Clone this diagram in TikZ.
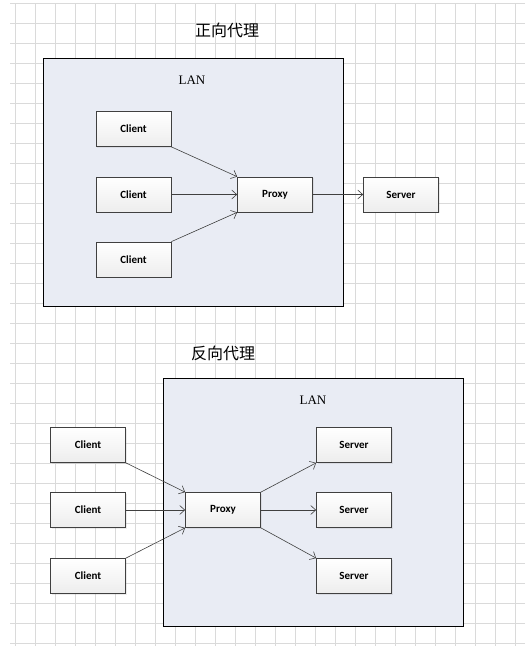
\documentclass[tikz,border=0pt]{standalone}
\usepackage{fontspec}
\setmainfont{Liberation Serif}
\newfontfamily\cjkfont{Noto Sans CJK SC}
\newfontfamily\boxfont{Carlito}
\usepackage{xcolor}
\definecolor{langray}{RGB}{233,236,244}
\definecolor{gridgray}{RGB}{218,218,218}
\definecolor{edgegray}{RGB}{64,64,64}
\usetikzlibrary{arrows.meta,shadows}

\begin{document}
\begin{tikzpicture}[
  x=1pt,y=-1pt,
  every node/.style={inner sep=0pt},
  gridline/.style={gridgray,line width=0.8pt},
  lanbox/.style={draw=black,fill=langray,line width=1pt},
  title/.style={font=\cjkfont\fontsize{16}{18}\selectfont},
  lanlabel/.style={font=\fontsize{13}{15}\selectfont},
  hostbox/.style={draw=edgegray,line width=0.7pt,top color=white,bottom color=black!7,
                  minimum width=75pt,minimum height=35pt,
                  font=\boxfont\bfseries\fontsize{11}{13}\selectfont,
                  drop shadow={opacity=0.15,shadow xshift=1pt,shadow yshift=-1pt}},
  link/.style={draw=edgegray,line width=0.6pt,-{Straight Barb[length=5pt,width=9pt]}},
]
  \useasboundingbox (0,0) rectangle (525,646);
  \fill[white] (0,0) rectangle (525,646);

  % Grid
  \foreach \x in {15,35,...,515} \draw[gridline] (\x,3) -- (\x,646);
  \foreach \y in {3,23,...,643} \draw[gridline] (10,\y) -- (525,\y);

  % Forward proxy
  \node[title] (fwdtitle) at (227,30) {正向代理};
  \draw[lanbox] (43,58) rectangle (343,306);
  \node[lanlabel] (fwdlan) at (192,80) {LAN};

  \node[hostbox] (fc1) at (133.5,129) {Client};
  \node[hostbox] (fc2) at (133.5,194.5) {Client};
  \node[hostbox] (fc3) at (133.5,259.5) {Client};
  \node[hostbox] (fproxy) at (275,194.5) {Proxy};
  \node[hostbox] (fserver) at (401,194.5) {Server};

  \draw[link] (fc1.south east) -- (fproxy.north west);
  \draw[link] (fc2.east) -- (fproxy.west);
  \draw[link] (fc3.north east) -- (fproxy.south west);
  \draw[link] (fproxy.east) -- (fserver.west);

  % Reverse proxy
  \node[title] (revtitle) at (223,353) {反向代理};
  \draw[lanbox] (163,378) rectangle (463,626);
  \node[lanlabel] (revlan) at (313,400) {LAN};

  \node[hostbox] (rc1) at (88,445) {Client};
  \node[hostbox] (rc2) at (88,510) {Client};
  \node[hostbox] (rc3) at (88,576) {Client};
  \node[hostbox] (rproxy) at (223,510) {Proxy};
  \node[hostbox] (rs1) at (354,445) {Server};
  \node[hostbox] (rs2) at (354,510) {Server};
  \node[hostbox] (rs3) at (354,576) {Server};

  \draw[link] (rc1.south east) -- (rproxy.north west);
  \draw[link] (rc2.east) -- (rproxy.west);
  \draw[link] (rc3.north east) -- (rproxy.south west);
  \draw[link] (rproxy.north east) -- (rs1.south west);
  \draw[link] (rproxy.east) -- (rs2.west);
  \draw[link] (rproxy.south east) -- (rs3.north west);
\end{tikzpicture}
\end{document}
